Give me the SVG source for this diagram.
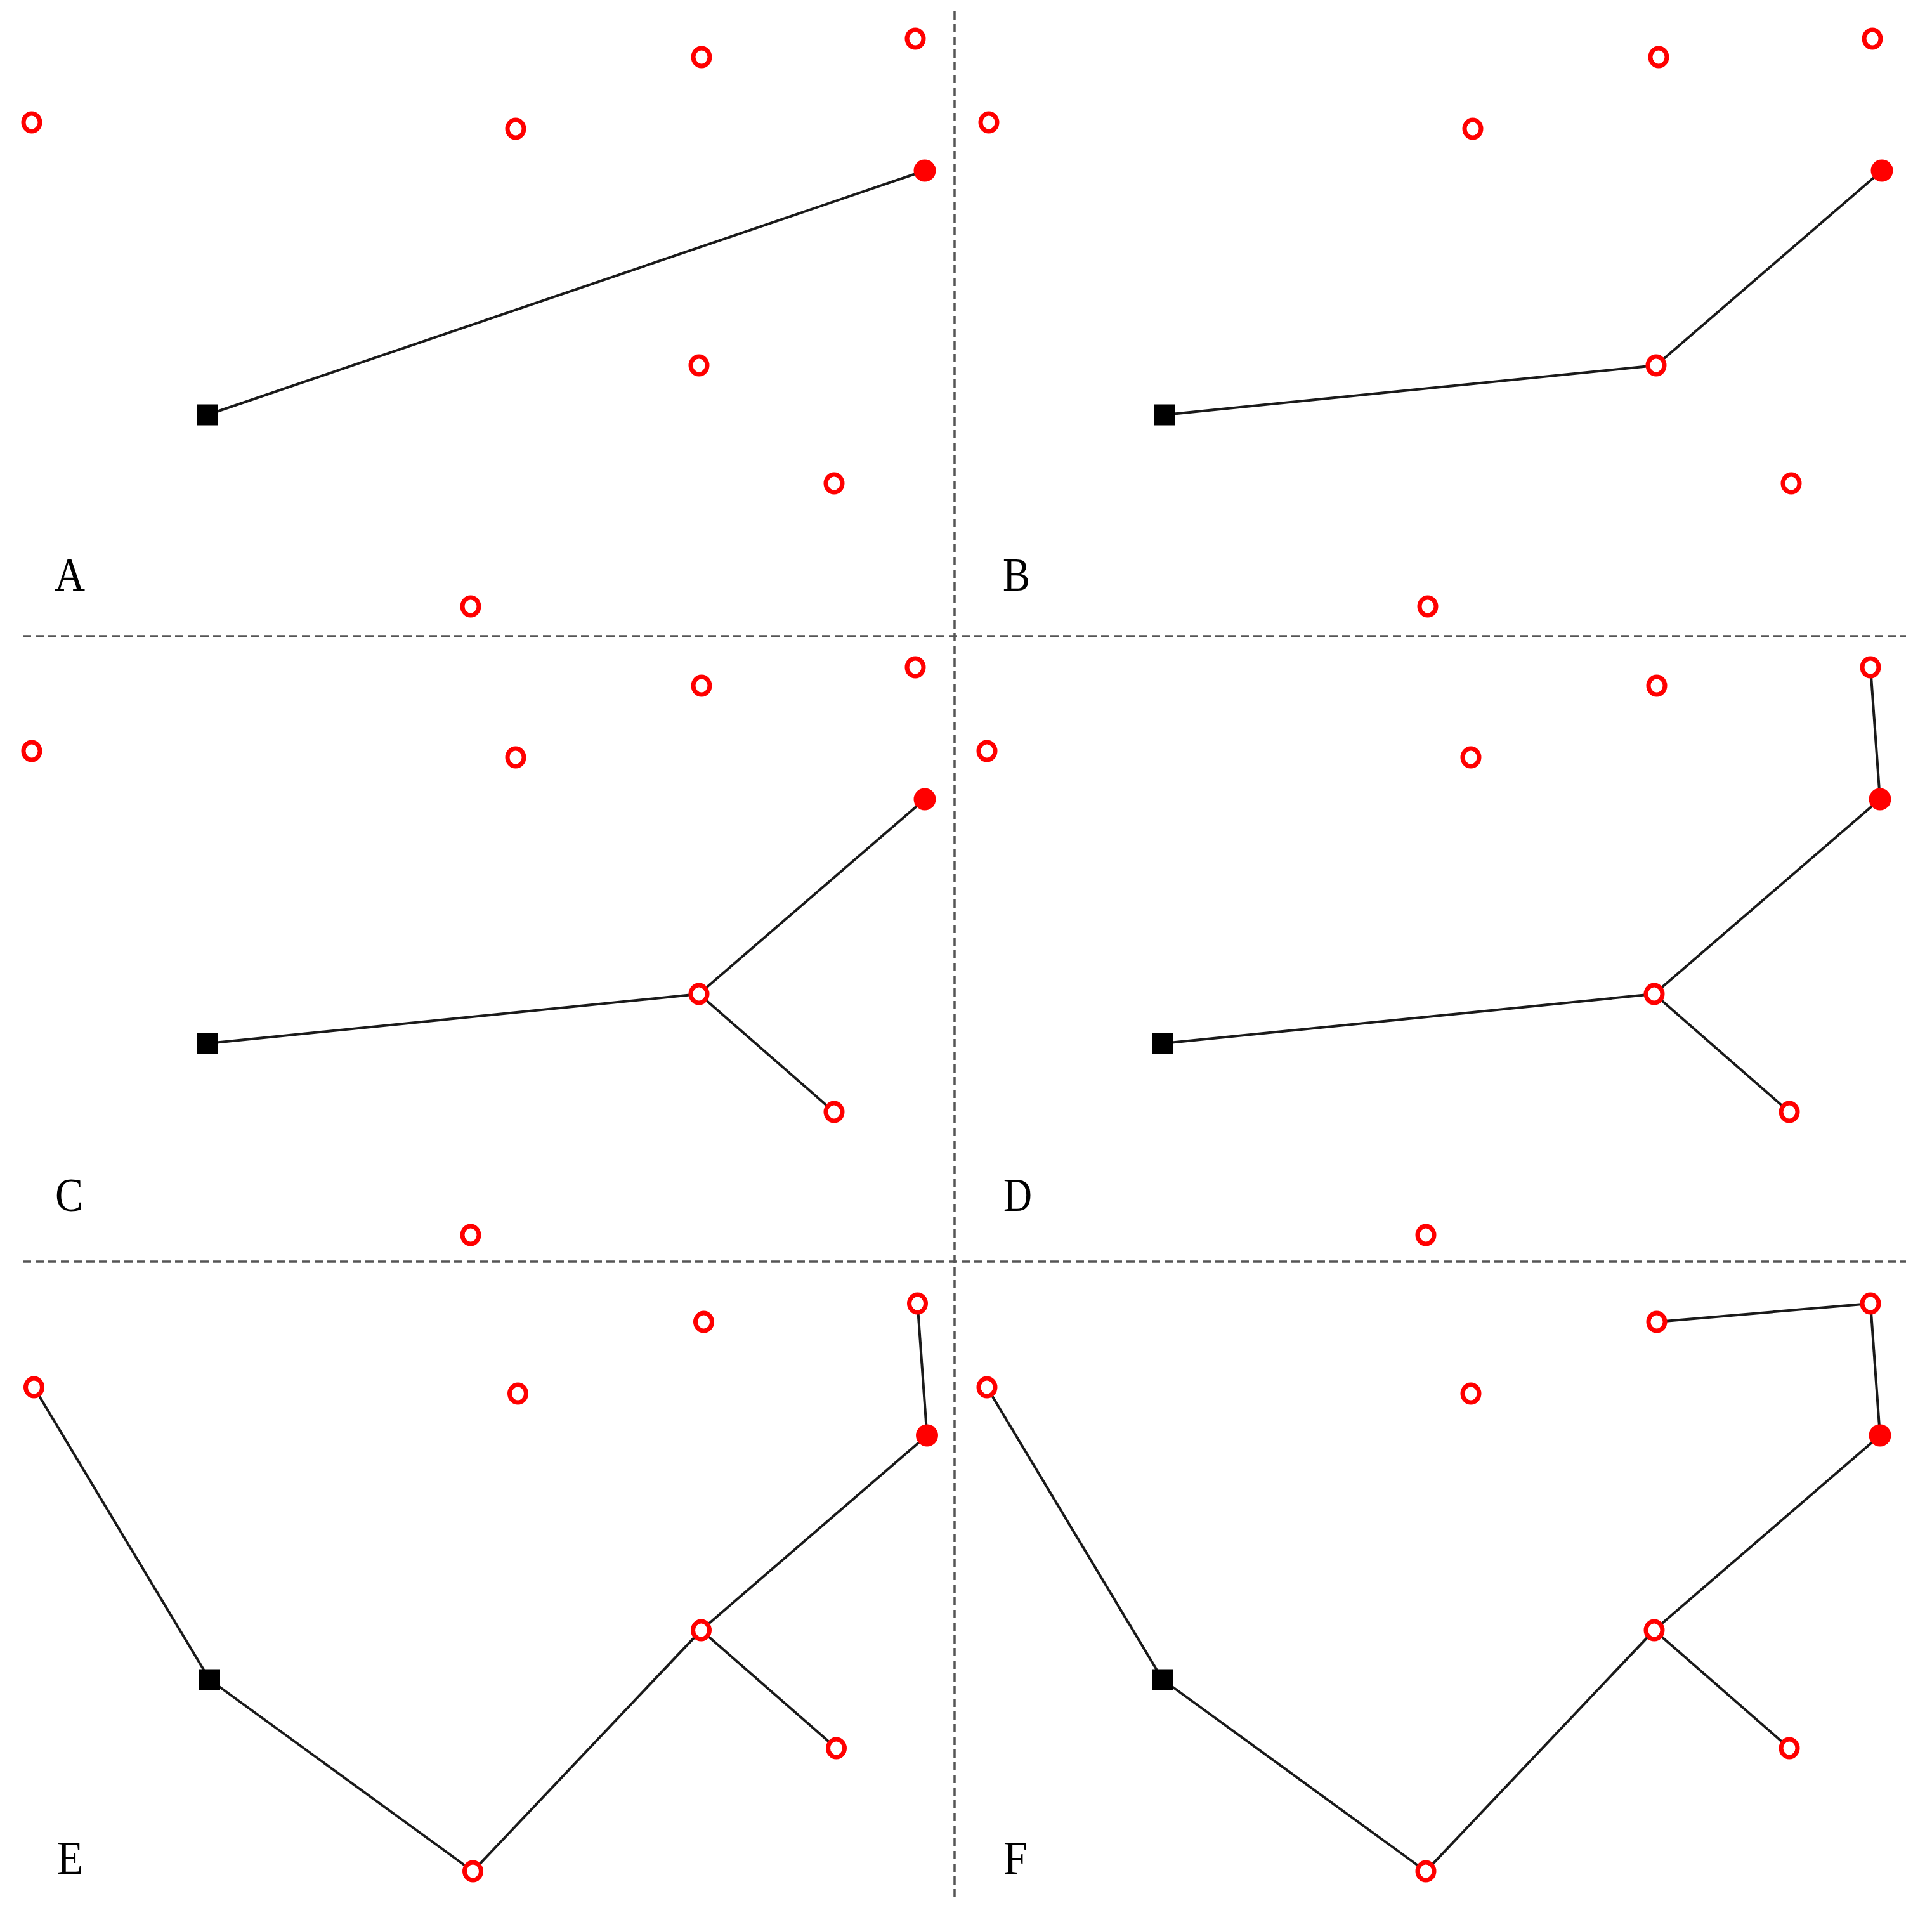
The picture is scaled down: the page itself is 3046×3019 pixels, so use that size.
<svg xmlns="http://www.w3.org/2000/svg" xmlns:xlink="http://www.w3.org/1999/xlink" width="3046" height="3019" viewBox="0 0 3046 3019">
<style>
.o{fill:#fff;stroke:#ff0000;stroke-width:7}
.f{fill:#ff0000}
.sq{fill:#000}
.e{stroke:#1a1a1a;stroke-width:4;fill:none}
.d{stroke:#555;stroke-width:3.5;stroke-dasharray:13 7;fill:none}
.lb{font-family:"Liberation Serif","Times New Roman",serif;font-size:74px;fill:#000}
</style>
<defs>
<ellipse id="oc" rx="13" ry="14" class="o"/>
<circle id="fc" r="17.5" class="f"/>
<rect id="sq" x="-16.5" y="-16.5" width="33" height="33" class="sq"/>
</defs>
<rect width="3046" height="3019" fill="#fff"/>
<g id="dividers">
<line class="d" x1="36" y1="1003" x2="3005" y2="1003"/>
<line class="d" x1="36" y1="1989" x2="3005" y2="1989"/>
<line class="d" x1="1505" y1="18" x2="1505" y2="2990"/>
</g>
<g id="connectors">
<g transform="translate(0,0)">
<line class="e" x1="327" y1="654" x2="1458" y2="269"/>
</g>
<g transform="translate(1509,0)">
<line class="e" x1="327" y1="654" x2="1102" y2="576"/>
<line class="e" x1="1102" y1="576" x2="1458" y2="269"/>
</g>
<g transform="translate(0,991)">
<line class="e" x1="327" y1="654" x2="1102" y2="576"/>
<line class="e" x1="1102" y1="576" x2="1458" y2="269"/>
<line class="e" x1="1102" y1="576" x2="1315" y2="762"/>
</g>
<g transform="translate(1506,991)">
<line class="e" x1="327" y1="654" x2="1102" y2="576"/>
<line class="e" x1="1102" y1="576" x2="1458" y2="269"/>
<line class="e" x1="1102" y1="576" x2="1315" y2="762"/>
<line class="e" x1="1458" y1="269" x2="1443" y2="61"/>
</g>
<g transform="translate(3.5,1994)">
<line class="e" x1="1102" y1="576" x2="1458" y2="269"/>
<line class="e" x1="1102" y1="576" x2="1315" y2="762"/>
<line class="e" x1="1458" y1="269" x2="1443" y2="61"/>
<line class="e" x1="327" y1="654" x2="50" y2="193"/>
<line class="e" x1="327" y1="654" x2="742" y2="956"/>
<line class="e" x1="742" y1="956" x2="1102" y2="576"/>
</g>
<g transform="translate(1506,1994)">
<line class="e" x1="1102" y1="576" x2="1458" y2="269"/>
<line class="e" x1="1102" y1="576" x2="1315" y2="762"/>
<line class="e" x1="1458" y1="269" x2="1443" y2="61"/>
<line class="e" x1="327" y1="654" x2="50" y2="193"/>
<line class="e" x1="327" y1="654" x2="742" y2="956"/>
<line class="e" x1="742" y1="956" x2="1102" y2="576"/>
<line class="e" x1="1443" y1="61" x2="1106" y2="90"/>
</g>
</g>
<g id="panelA" transform="translate(0,0)">
<use xlink:href="#oc" x="50" y="193"/><use xlink:href="#oc" x="813" y="203"/><use xlink:href="#oc" x="1106" y="90"/><use xlink:href="#oc" x="1443" y="61"/><use xlink:href="#oc" x="1102" y="576"/><use xlink:href="#oc" x="1315" y="762"/><use xlink:href="#oc" x="742" y="956"/><use xlink:href="#fc" x="1458" y="269"/><use xlink:href="#sq" x="327" y="654"/>
<text class="lb" x="86" y="931" textLength="48" lengthAdjust="spacingAndGlyphs">A</text>
</g>
<g id="panelB" transform="translate(1509,0)">
<use xlink:href="#oc" x="50" y="193"/><use xlink:href="#oc" x="813" y="203"/><use xlink:href="#oc" x="1106" y="90"/><use xlink:href="#oc" x="1443" y="61"/><use xlink:href="#oc" x="1102" y="576"/><use xlink:href="#oc" x="1315" y="762"/><use xlink:href="#oc" x="742" y="956"/><use xlink:href="#fc" x="1458" y="269"/><use xlink:href="#sq" x="327" y="654"/>
<text class="lb" x="72" y="931" textLength="43" lengthAdjust="spacingAndGlyphs">B</text>
</g>
<g id="panelC" transform="translate(0,991)">
<use xlink:href="#oc" x="50" y="193"/><use xlink:href="#oc" x="813" y="203"/><use xlink:href="#oc" x="1106" y="90"/><use xlink:href="#oc" x="1443" y="61"/><use xlink:href="#oc" x="1102" y="576"/><use xlink:href="#oc" x="1315" y="762"/><use xlink:href="#oc" x="742" y="956"/><use xlink:href="#fc" x="1458" y="269"/><use xlink:href="#sq" x="327" y="654"/>
<text class="lb" x="87" y="918" textLength="44" lengthAdjust="spacingAndGlyphs">C</text>
</g>
<g id="panelD" transform="translate(1506,991)">
<use xlink:href="#oc" x="50" y="193"/><use xlink:href="#oc" x="813" y="203"/><use xlink:href="#oc" x="1106" y="90"/><use xlink:href="#oc" x="1443" y="61"/><use xlink:href="#oc" x="1102" y="576"/><use xlink:href="#oc" x="1315" y="762"/><use xlink:href="#oc" x="742" y="956"/><use xlink:href="#fc" x="1458" y="269"/><use xlink:href="#sq" x="327" y="654"/>
<text class="lb" x="76" y="918" textLength="45" lengthAdjust="spacingAndGlyphs">D</text>
</g>
<g id="panelE" transform="translate(3.5,1994)">
<use xlink:href="#oc" x="50" y="193"/><use xlink:href="#oc" x="813" y="203"/><use xlink:href="#oc" x="1106" y="90"/><use xlink:href="#oc" x="1443" y="61"/><use xlink:href="#oc" x="1102" y="576"/><use xlink:href="#oc" x="1315" y="762"/><use xlink:href="#oc" x="742" y="956"/><use xlink:href="#fc" x="1458" y="269"/><use xlink:href="#sq" x="327" y="654"/>
<text class="lb" x="86" y="960" textLength="42" lengthAdjust="spacingAndGlyphs">E</text>
</g>
<g id="panelF" transform="translate(1506,1994)">
<use xlink:href="#oc" x="50" y="193"/><use xlink:href="#oc" x="813" y="203"/><use xlink:href="#oc" x="1106" y="90"/><use xlink:href="#oc" x="1443" y="61"/><use xlink:href="#oc" x="1102" y="576"/><use xlink:href="#oc" x="1315" y="762"/><use xlink:href="#oc" x="742" y="956"/><use xlink:href="#fc" x="1458" y="269"/><use xlink:href="#sq" x="327" y="654"/>
<text class="lb" x="76" y="960" textLength="38" lengthAdjust="spacingAndGlyphs">F</text>
</g>
</svg>
